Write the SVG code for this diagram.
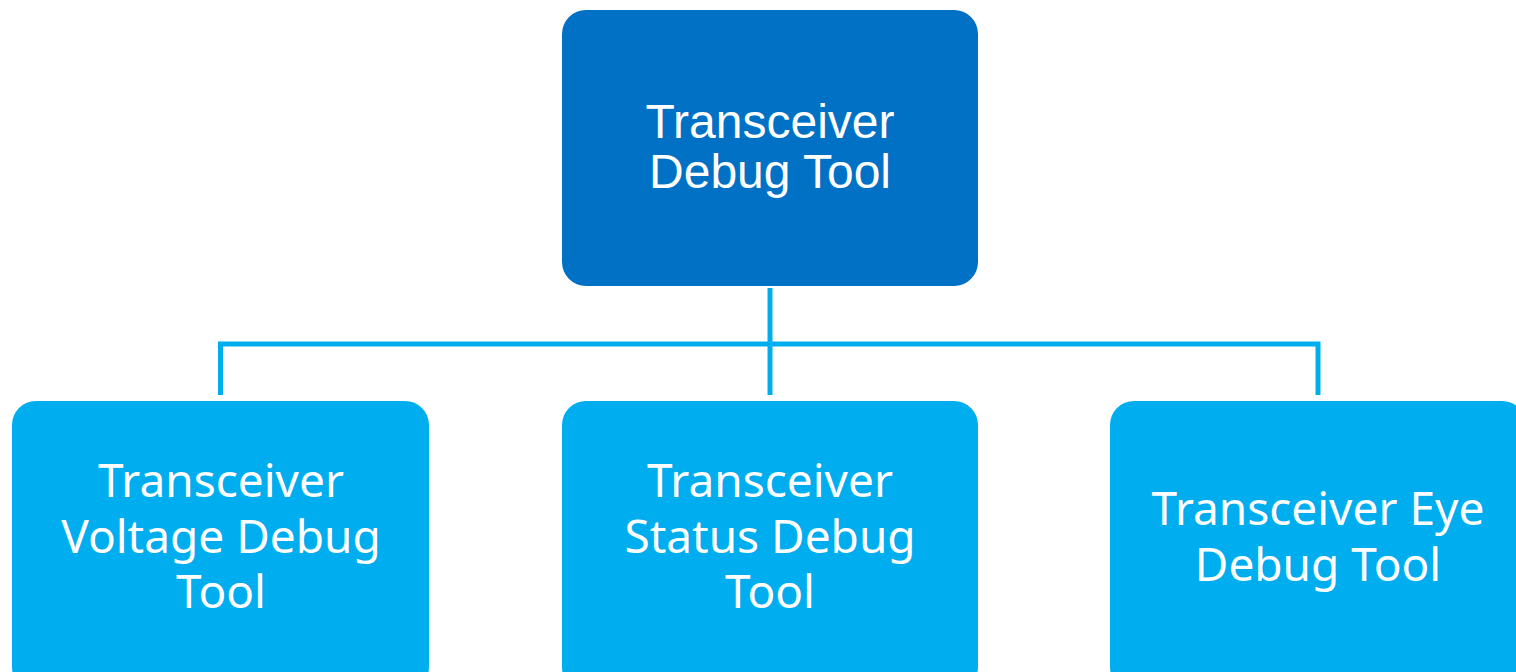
<svg xmlns="http://www.w3.org/2000/svg" width="1516" height="672" viewBox="0 0 1516 672">
<style>
.top{fill:#0071C5}
.child{fill:#00AEEF}
.lt{font-family:"Liberation Sans",Arial,sans-serif;font-size:48px;fill:#fff;text-anchor:middle}
.ct{font-family:"Noto Sans","Open Sans",sans-serif;font-size:46px;fill:#fff;text-anchor:middle}
.conn{fill:none;stroke:#00AEEF;stroke-width:5}
</style>
<rect width="1516" height="672" fill="#fff"/>
<g id="connectors">
<line class="conn" x1="770" y1="288" x2="770" y2="395"/>
<path class="conn" d="M220.5 395 V344 H1318 V395"/>
</g>
<g id="root">
<rect class="top" x="562" y="10" width="416" height="276" rx="24"/>
<text class="lt" x="770" y="138">Transceiver</text>
<text class="lt" x="770" y="188">Debug Tool</text>
</g>
<g id="voltage">
<rect class="child" x="12" y="401" width="417" height="290" rx="24"/>
<text class="ct" x="221" y="497">Transceiver</text>
<text class="ct" x="221" y="553">Voltage Debug</text>
<text class="ct" x="221" y="608">Tool</text>
</g>
<g id="status">
<rect class="child" x="562" y="401" width="416" height="290" rx="24"/>
<text class="ct" x="770" y="497">Transceiver</text>
<text class="ct" x="770" y="553">Status Debug</text>
<text class="ct" x="770" y="608">Tool</text>
</g>
<g id="eye">
<rect class="child" x="1110" y="401" width="416" height="290" rx="24"/>
<text class="ct" x="1318" y="525">Transceiver Eye</text>
<text class="ct" x="1318" y="581">Debug Tool</text>
</g>
</svg>
